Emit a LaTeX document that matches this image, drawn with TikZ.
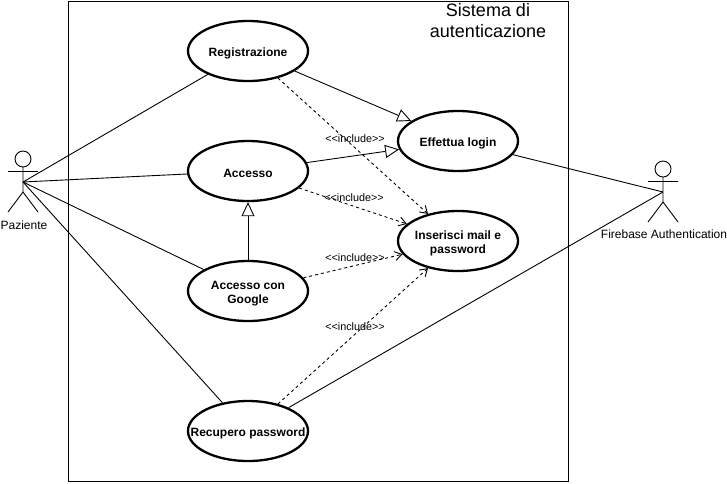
\documentclass[tikz,border=0pt]{standalone}
\usepackage{fontspec}
\setmainfont{Liberation Sans}
\usetikzlibrary{arrows.meta,shapes.geometric}
\newcommand{\lowtext}[1]{\raisebox{-2.5pt}[\height][\depth]{#1}}
\tikzset{
    usecase/.style={draw,ellipse,line width=2.3pt,minimum width=120,minimum height=60,inner sep=0pt,inner xsep=-3pt,align=center,font=\bfseries\fontsize{12}{14}\selectfont,execute at begin node={\rule{0pt}{13pt}}},
    extends/.style={-{Triangle[open,fill=white,length=14,width=13]},line width=0.9pt},
    includes/.style={dash pattern=on 3pt off 3pt,-{Straight Barb[length=7,width=9]},line width=0.9pt},
    tag/.style={font=\fontsize{10.8}{12}\selectfont,inner sep=0pt},
    actorname/.style={font=\fontsize{12}{14}\selectfont,inner sep=0pt}
}
\begin{document}
\begin{tikzpicture}[x=1pt,y=-1pt]
    \useasboundingbox (0,0) rectangle (727,483);
    \draw[line width=1pt] (68.5,1) rectangle (568.5,481.5);
    \node[align=center,font=\fontsize{18}{21}\selectfont,inner sep=0pt] (titolo) at (488,21) {Sistema di\\autenticazione};
    % casi d'uso
    \node[usecase] (reg) at (248,51) {Registrazione};
    \node[usecase] (acc) at (248,171) {Accesso};
    \node[usecase] (goog) at (248,291) {\lowtext{Accesso con}\\\lowtext{Google}};
    \node[usecase] (rec) at (248,431) {\makebox[60pt]{Recupero password}};
    \node[usecase] (login) at (458,141) {Effettua login};
    \node[usecase] (mail) at (458,241) {\lowtext{Inserisci mail e}\\\lowtext{password}};
    % attori
    \foreach \ax/\ay/\aname in {23/159/paz,663/169/fire}
        {\draw[line width=0.9pt] (\ax,\ay) circle (8);
        \draw[line width=0.9pt] (\ax,\ay+8) -- (\ax,\ay+33) -- (\ax-15,\ay+53);
        \draw[line width=0.9pt] (\ax,\ay+33) -- (\ax+15,\ay+53);
        \draw[line width=0.9pt] (\ax-15,\ay+12) -- (\ax+15,\ay+12);
        \coordinate (\aname) at (\ax,\ay+23);
        }
    \node[actorname] (pazname) at (24,225) {Paziente};
    \node[actorname] (firename) at (664,234) {Firebase Authentication};
    % collegamenti
    \foreach \a in {reg,acc,goog,rec}
        {\draw[line width=0.9pt] (paz) -- (\a);
        }
    \draw[line width=0.9pt] (login) -- (fire);
    \draw[line width=0.9pt] (rec) -- (fire);
    \draw[extends] (reg) -- (login);
    \draw[extends] (acc) -- (login);
    \draw[extends] (goog) -- (acc);
    \foreach \a in {reg,acc,goog,rec}
        {\draw[includes] (\a) -- (mail);
        }
    \node[tag] (inc1) at (355,138.5) {<{}<include>{}>};
    \node[tag] (inc2) at (354,197.5) {<{}<include>{}>};
    \node[tag] (inc3) at (355,257.5) {<{}<include>{}>};
    \node[tag] (inc4) at (355,326.5) {<{}<include>{}>};
\end{tikzpicture}
\end{document}
